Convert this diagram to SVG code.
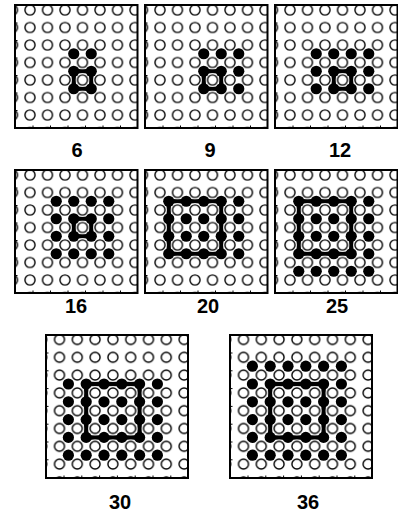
<svg xmlns="http://www.w3.org/2000/svg" width="398" height="512" viewBox="0 0 398 512">
<style>
.box{fill:none;stroke:#000;stroke-width:2}
.tick{fill:none;stroke:#000;stroke-width:1}
.sq{fill:none;stroke:#000;stroke-width:4.5;stroke-linejoin:round}
.lbl{font-family:"Liberation Sans",Arial,sans-serif;font-weight:bold;font-size:20px;text-anchor:middle;fill:#000}
</style>
<defs>
<pattern id="gA" patternUnits="userSpaceOnUse" x="6.25" y="-3.75" width="17.5" height="17.5">
<circle cx="8.75" cy="8.75" r="5" fill="#fff" stroke="#fff" stroke-width="3.5"/>
<circle cx="8.75" cy="8.75" r="5" fill="#fff" stroke="#000" stroke-width="1.4"/>
</pattern>
<pattern id="gB" patternUnits="userSpaceOnUse" x="4.6" y="-4.4" width="17.8" height="17.8">
<circle cx="8.9" cy="8.9" r="5" fill="#fff" stroke="#fff" stroke-width="3.5"/>
<circle cx="8.9" cy="8.9" r="5" fill="#fff" stroke="#000" stroke-width="1.4"/>
</pattern>
<circle id="d" r="5.6" fill="#000"/>
<path id="tA" class="tick" d="M0,18h2.5M0,35.5h2.5M0,53h2.5M0,70.5h2.5M0,88h2.5M0,105.5h2.5M18,123v-2.5M35.5,123v-2.5M53,123v-2.5M70.5,123v-2.5M88,123v-2.5M105.5,123v-2.5"/>
<path id="tB" class="tick" d="M0,18h2.5M0,35.8h2.5M0,53.6h2.5M0,71.4h2.5M0,89.2h2.5M0,107h2.5M0,124.8h2.5M18,143v-2.5M35.8,143v-2.5M53.6,143v-2.5M71.4,143v-2.5M89.2,143v-2.5M107,143v-2.5M124.8,143v-2.5"/>
</defs>
<rect width="398" height="512" fill="#fff"/>

<g id="p6" transform="translate(15,5)">
<rect class="sq" x="58.75" y="66.25" width="17.5" height="17.5"/>
<rect width="122.5" height="123" fill="url(#gA)"/>
<use href="#d" x="58.75" y="48.75"/><use href="#d" x="76.25" y="48.75"/>
<use href="#d" x="58.75" y="66.25"/><use href="#d" x="76.25" y="66.25"/>
<use href="#d" x="58.75" y="83.75"/><use href="#d" x="76.25" y="83.75"/>
<use href="#tA"/>
<rect class="box" width="122.5" height="123"/>
</g>

<g id="p9" transform="translate(145,5)">
<rect class="sq" x="58.75" y="66.25" width="17.5" height="17.5"/>
<rect width="122.5" height="123" fill="url(#gA)"/>
<use href="#d" x="58.75" y="48.75"/><use href="#d" x="76.25" y="48.75"/><use href="#d" x="93.75" y="48.75"/>
<use href="#d" x="58.75" y="66.25"/><use href="#d" x="76.25" y="66.25"/><use href="#d" x="93.75" y="66.25"/>
<use href="#d" x="58.75" y="83.75"/><use href="#d" x="76.25" y="83.75"/><use href="#d" x="93.75" y="83.75"/>
<use href="#tA"/>
<rect class="box" width="122.5" height="123"/>
</g>

<g id="p12" transform="translate(275,5)">
<rect class="sq" x="58.75" y="66.25" width="17.5" height="17.5"/>
<rect width="122.5" height="123" fill="url(#gA)"/>
<use href="#d" x="41.25" y="48.75"/><use href="#d" x="58.75" y="48.75"/><use href="#d" x="76.25" y="48.75"/><use href="#d" x="93.75" y="48.75"/>
<use href="#d" x="41.25" y="66.25"/><use href="#d" x="58.75" y="66.25"/><use href="#d" x="76.25" y="66.25"/><use href="#d" x="93.75" y="66.25"/>
<use href="#d" x="41.25" y="83.75"/><use href="#d" x="58.75" y="83.75"/><use href="#d" x="76.25" y="83.75"/><use href="#d" x="93.75" y="83.75"/>
<use href="#tA"/>
<rect class="box" width="122.5" height="123"/>
</g>

<g id="p16" transform="translate(15,170)">
<rect class="sq" x="58.75" y="48.75" width="17.5" height="17.5"/>
<rect width="122.5" height="123" fill="url(#gA)"/>
<use href="#d" x="41.25" y="31.25"/><use href="#d" x="58.75" y="31.25"/><use href="#d" x="76.25" y="31.25"/><use href="#d" x="93.75" y="31.25"/>
<use href="#d" x="41.25" y="48.75"/><use href="#d" x="58.75" y="48.75"/><use href="#d" x="76.25" y="48.75"/><use href="#d" x="93.75" y="48.75"/>
<use href="#d" x="41.25" y="66.25"/><use href="#d" x="58.75" y="66.25"/><use href="#d" x="76.25" y="66.25"/><use href="#d" x="93.75" y="66.25"/>
<use href="#d" x="41.25" y="83.75"/><use href="#d" x="58.75" y="83.75"/><use href="#d" x="76.25" y="83.75"/><use href="#d" x="93.75" y="83.75"/>
<use href="#tA"/>
<rect class="box" width="122.5" height="123"/>
</g>

<g id="p20" transform="translate(145,170)">
<rect class="sq" x="23.75" y="31.25" width="52.5" height="52.5"/>
<rect width="122.5" height="123" fill="url(#gA)"/>
<use href="#d" x="23.75" y="31.25"/><use href="#d" x="41.25" y="31.25"/><use href="#d" x="58.75" y="31.25"/><use href="#d" x="76.25" y="31.25"/><use href="#d" x="93.75" y="31.25"/>
<use href="#d" x="23.75" y="48.75"/><use href="#d" x="41.25" y="48.75"/><use href="#d" x="58.75" y="48.75"/><use href="#d" x="76.25" y="48.75"/><use href="#d" x="93.75" y="48.75"/>
<use href="#d" x="23.75" y="66.25"/><use href="#d" x="41.25" y="66.25"/><use href="#d" x="58.75" y="66.25"/><use href="#d" x="76.25" y="66.25"/><use href="#d" x="93.75" y="66.25"/>
<use href="#d" x="23.75" y="83.75"/><use href="#d" x="41.25" y="83.75"/><use href="#d" x="58.75" y="83.75"/><use href="#d" x="76.25" y="83.75"/><use href="#d" x="93.75" y="83.75"/>
<use href="#tA"/>
<rect class="box" width="122.5" height="123"/>
</g>

<g id="p25" transform="translate(275,170)">
<rect class="sq" x="23.75" y="31.25" width="52.5" height="52.5"/>
<rect width="122.5" height="123" fill="url(#gA)"/>
<use href="#d" x="23.75" y="31.25"/><use href="#d" x="41.25" y="31.25"/><use href="#d" x="58.75" y="31.25"/><use href="#d" x="76.25" y="31.25"/><use href="#d" x="93.75" y="31.25"/>
<use href="#d" x="23.75" y="48.75"/><use href="#d" x="41.25" y="48.75"/><use href="#d" x="58.75" y="48.75"/><use href="#d" x="76.25" y="48.75"/><use href="#d" x="93.75" y="48.75"/>
<use href="#d" x="23.75" y="66.25"/><use href="#d" x="41.25" y="66.25"/><use href="#d" x="58.75" y="66.25"/><use href="#d" x="76.25" y="66.25"/><use href="#d" x="93.75" y="66.25"/>
<use href="#d" x="23.75" y="83.75"/><use href="#d" x="41.25" y="83.75"/><use href="#d" x="58.75" y="83.75"/><use href="#d" x="76.25" y="83.75"/><use href="#d" x="93.75" y="83.75"/>
<use href="#d" x="23.75" y="101.25"/><use href="#d" x="41.25" y="101.25"/><use href="#d" x="58.75" y="101.25"/><use href="#d" x="76.25" y="101.25"/><use href="#d" x="93.75" y="101.25"/>
<use href="#tA"/>
<rect class="box" width="122.5" height="123"/>
</g>

<g id="p30" transform="translate(46,335)">
<rect class="sq" x="40.2" y="49" width="53.4" height="53.4"/>
<rect width="142" height="143" fill="url(#gB)"/>
<use href="#d" x="22.4" y="49"/><use href="#d" x="40.2" y="49"/><use href="#d" x="58" y="49"/><use href="#d" x="75.8" y="49"/><use href="#d" x="93.6" y="49"/><use href="#d" x="111.4" y="49"/>
<use href="#d" x="22.4" y="66.8"/><use href="#d" x="40.2" y="66.8"/><use href="#d" x="58" y="66.8"/><use href="#d" x="75.8" y="66.8"/><use href="#d" x="93.6" y="66.8"/><use href="#d" x="111.4" y="66.8"/>
<use href="#d" x="22.4" y="84.6"/><use href="#d" x="40.2" y="84.6"/><use href="#d" x="58" y="84.6"/><use href="#d" x="75.8" y="84.6"/><use href="#d" x="93.6" y="84.6"/><use href="#d" x="111.4" y="84.6"/>
<use href="#d" x="22.4" y="102.4"/><use href="#d" x="40.2" y="102.4"/><use href="#d" x="58" y="102.4"/><use href="#d" x="75.8" y="102.4"/><use href="#d" x="93.6" y="102.4"/><use href="#d" x="111.4" y="102.4"/>
<use href="#d" x="22.4" y="120.2"/><use href="#d" x="40.2" y="120.2"/><use href="#d" x="58" y="120.2"/><use href="#d" x="75.8" y="120.2"/><use href="#d" x="93.6" y="120.2"/><use href="#d" x="111.4" y="120.2"/>
<use href="#tB"/>
<rect class="box" width="142" height="143"/>
</g>

<g id="p36" transform="translate(230,335)">
<rect class="sq" x="40.2" y="49" width="53.4" height="53.4"/>
<rect width="142" height="143" fill="url(#gB)"/>
<use href="#d" x="22.4" y="31.2"/><use href="#d" x="40.2" y="31.2"/><use href="#d" x="58" y="31.2"/><use href="#d" x="75.8" y="31.2"/><use href="#d" x="93.6" y="31.2"/><use href="#d" x="111.4" y="31.2"/>
<use href="#d" x="22.4" y="49"/><use href="#d" x="40.2" y="49"/><use href="#d" x="58" y="49"/><use href="#d" x="75.8" y="49"/><use href="#d" x="93.6" y="49"/><use href="#d" x="111.4" y="49"/>
<use href="#d" x="22.4" y="66.8"/><use href="#d" x="40.2" y="66.8"/><use href="#d" x="58" y="66.8"/><use href="#d" x="75.8" y="66.8"/><use href="#d" x="93.6" y="66.8"/><use href="#d" x="111.4" y="66.8"/>
<use href="#d" x="22.4" y="84.6"/><use href="#d" x="40.2" y="84.6"/><use href="#d" x="58" y="84.6"/><use href="#d" x="75.8" y="84.6"/><use href="#d" x="93.6" y="84.6"/><use href="#d" x="111.4" y="84.6"/>
<use href="#d" x="22.4" y="102.4"/><use href="#d" x="40.2" y="102.4"/><use href="#d" x="58" y="102.4"/><use href="#d" x="75.8" y="102.4"/><use href="#d" x="93.6" y="102.4"/><use href="#d" x="111.4" y="102.4"/>
<use href="#d" x="22.4" y="120.2"/><use href="#d" x="40.2" y="120.2"/><use href="#d" x="58" y="120.2"/><use href="#d" x="75.8" y="120.2"/><use href="#d" x="93.6" y="120.2"/><use href="#d" x="111.4" y="120.2"/>
<use href="#tB"/>
<rect class="box" width="142" height="143"/>
</g>

<g id="labels">
<text class="lbl" x="77" y="157">6</text>
<text class="lbl" x="210" y="157">9</text>
<text class="lbl" x="340" y="157">12</text>
<text class="lbl" x="76" y="313">16</text>
<text class="lbl" x="208" y="313">20</text>
<text class="lbl" x="337" y="313">25</text>
<text class="lbl" x="120" y="509">30</text>
<text class="lbl" x="308" y="509">36</text>
</g>
</svg>
